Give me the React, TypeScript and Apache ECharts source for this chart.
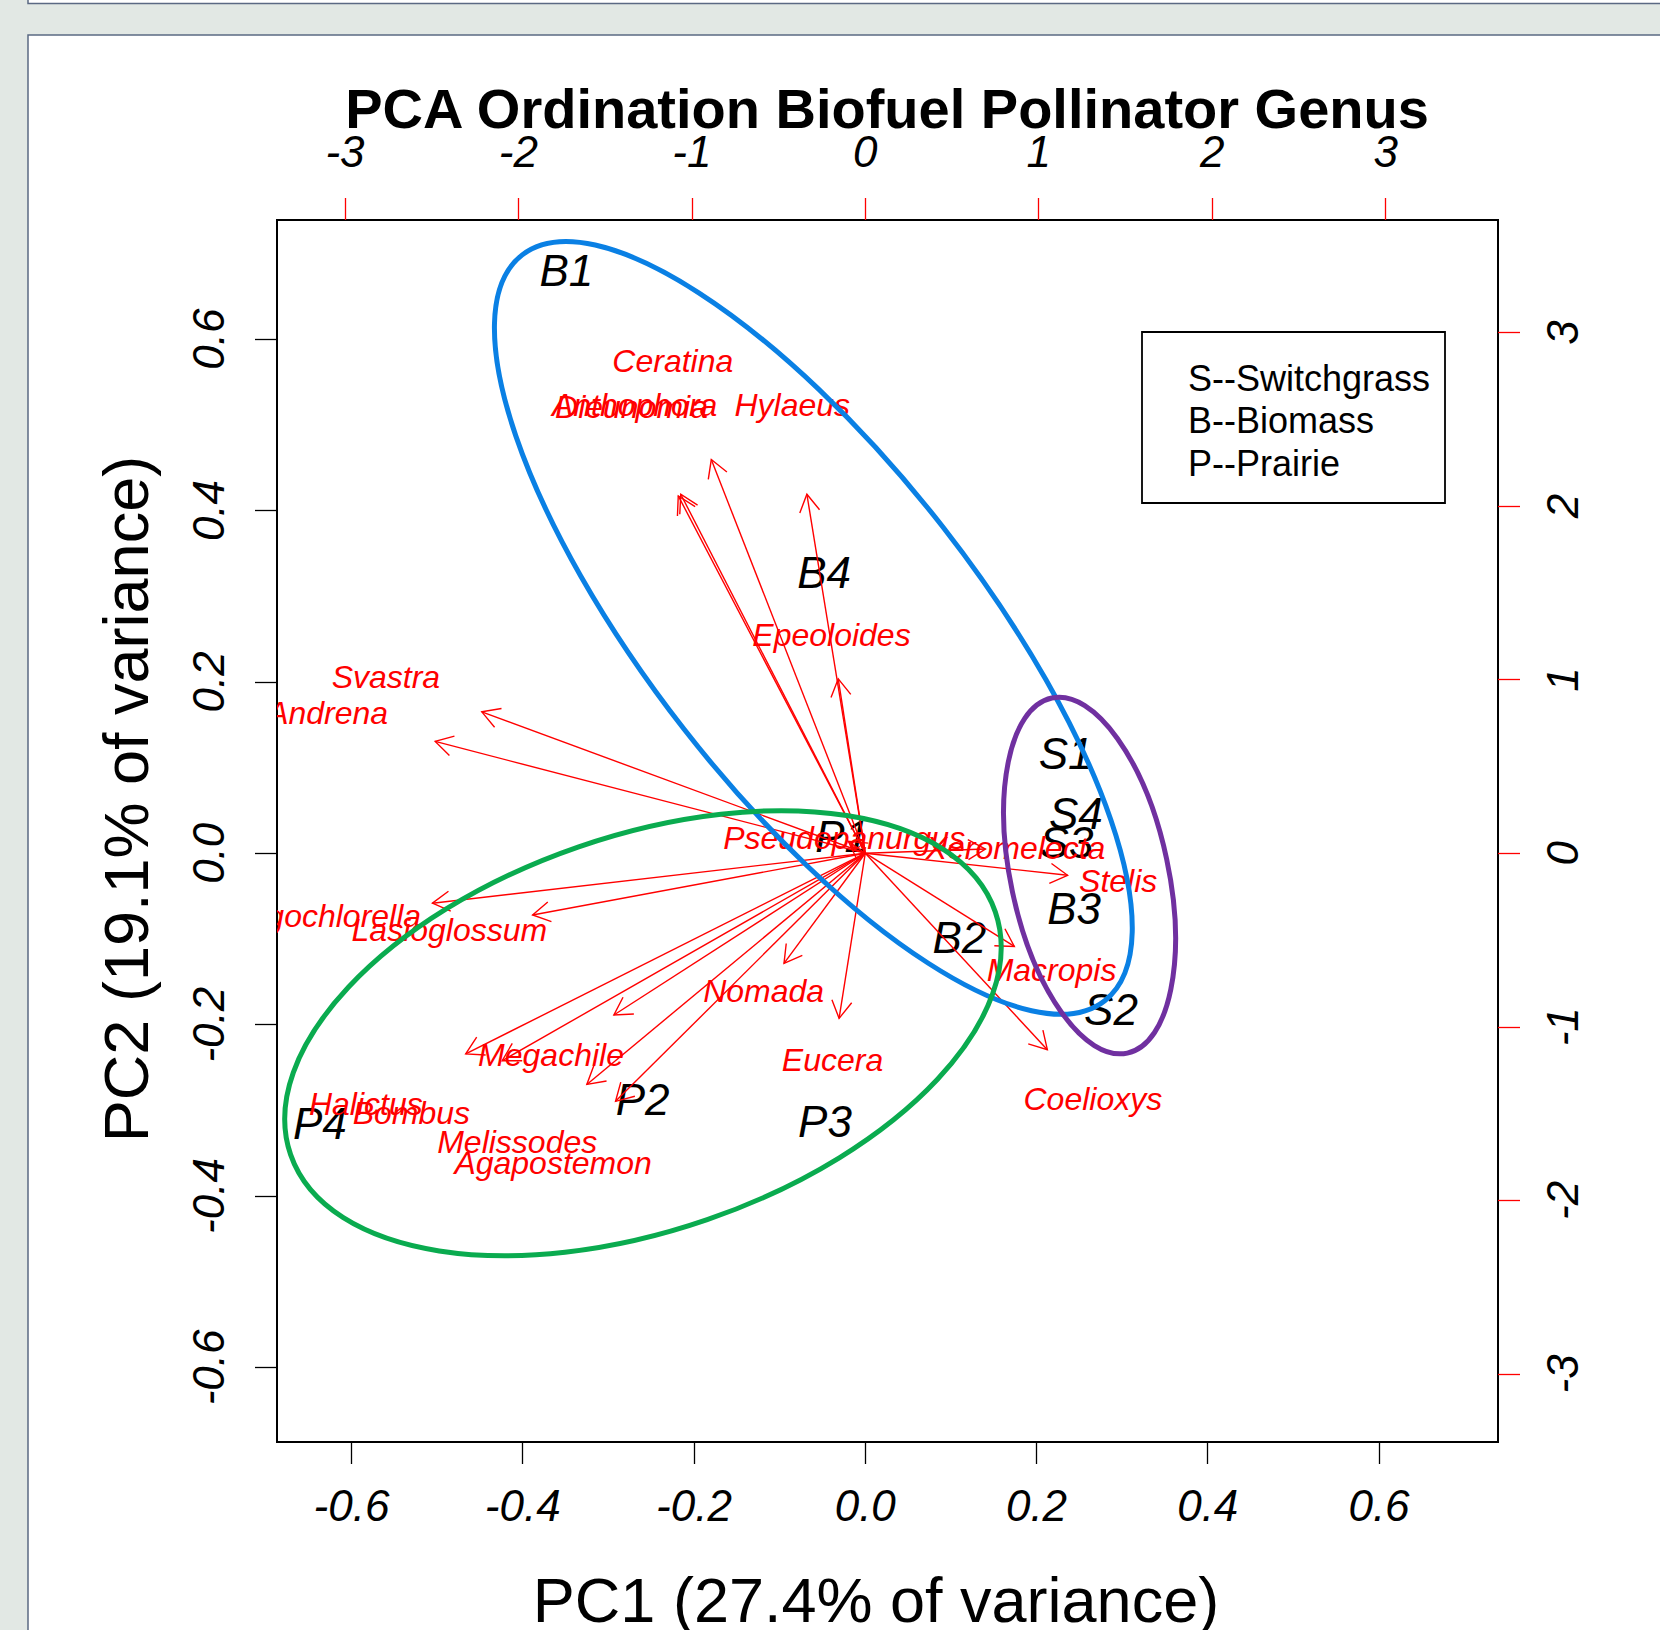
import React, { useEffect, useRef } from "react";
import * as echarts from "echarts";

const FONT = '"Liberation Sans", Arial, Helvetica, sans-serif';

const titleText = "PCA Ordination Biofuel Pollinator Genus";
const xTitle = "PC1 (27.4% of variance)";
const yTitle = "PC2 (19.1% of variance)";

// axis ranges and ticks
const primaryRange = [-0.687, 0.739];
const secondaryRange = [-3.392, 3.648];
const primaryTicks = [-0.6, -0.4, -0.2, 0, 0.2, 0.4, 0.6];
const secondaryTicks = [-3, -2, -1, 0, 1, 2, 3];

// site scores (black labels, bottom/left axes)
const siteNames = ["B1", "B4", "S1", "S4", "S3", "B3", "B2", "S2", "P1", "P2", "P3", "P4"];
const sitePC1 = [-0.349, -0.048, 0.234, 0.246, 0.235, 0.244, 0.11, 0.287, -0.027, -0.26, -0.047, -0.637];
const sitePC2 = [0.68, 0.328, 0.117, 0.046, 0.012, -0.064, -0.098, -0.182, 0.019, -0.287, -0.313, -0.315];

// genus loadings (red arrows & labels, top/right axes)
const genusNames = [
  "Ceratina", "Anthophora", "Dieunomia", "Hylaeus", "Epeoloides", "Svastra", "Andrena",
  "Augochlorella", "Lasioglossum", "Megachile", "Halictus", "Bombus", "Melissodes",
  "Agapostemon", "Nomada", "Eucera", "Macropis", "Coelioxys", "Stelis", "Xeromelecta",
  "Pseudopanurgus",
];
const genusPC1 = [
  -1.11, -1.33, -1.348, -0.421, -0.195, -2.764, -3.1,
  -3.12, -2.398, -1.812, -2.88, -2.617, -2.007,
  -1.8, -0.586, -0.189, 1.074, 1.312, 1.458, 0.866,
  -0.122,
];
const genusPC2 = [
  2.835, 2.585, 2.573, 2.585, 1.256, 1.018, 0.805,
  -0.36, -0.445, -1.165, -1.445, -1.494, -1.665,
  -1.787, -0.793, -1.189, -0.671, -1.415, -0.159, 0.03,
  0.085,
];
const arrowScale = 0.8; // R biplot draws arrows to 0.8 of the label position

// hand-drawn group ellipses (primary units)
const ellipseColors = ["#0a80e4", "#0aab4f", "#7030a0"];
const ellipseCX = [-0.0606, -0.2596, 0.262];
const ellipseCY = [0.263, -0.21, -0.026];
const ellipseA = [0.5525, 0.435, 0.212];
const ellipseB = [0.1916, 0.23, 0.092];
const ellipseAngle = [-52, 19, -78];

const legendLines = ["S--Switchgrass", "B--Biomass", "P--Prairie"];

export default function App() {
  const ref = useRef<HTMLDivElement>(null);
  useEffect(() => {
    if (!ref.current) return;
    const chart = echarts.init(ref.current, undefined, { renderer: "svg" });

    const tickLabelBase = {
      fontSize: 44,
      fontStyle: "italic" as const,
      fontFamily: FONT,
      color: "#000",
    };
    const hiddenLine = { show: false, onZero: false };

    const option: any = {
      animation: false,
      backgroundColor: "#e2e8e4",
      title: {
        text: titleText,
        left: 887,
        top: 108,
        padding: 0,
        textAlign: "center",
        textVerticalAlign: "middle",
        textStyle: { fontSize: 56, fontWeight: "bold", fontFamily: FONT, color: "#000" },
      },
      grid: {
        left: 277,
        top: 220,
        width: 1221,
        height: 1222,
        show: true,
        borderColor: "#000",
        borderWidth: 2,
        backgroundColor: "transparent",
        containLabel: false,
      },
      xAxis: [
        {
          type: "value",
          position: "bottom",
          min: primaryRange[0],
          max: primaryRange[1],
          axisLine: hiddenLine,
          splitLine: { show: false },
          axisTick: {
            show: true,
            length: 22,
            lineStyle: { color: "#000", width: 1.3 },
            customValues: primaryTicks,
          },
          axisLabel: {
            ...tickLabelBase,
            margin: 41,
            customValues: primaryTicks,
            formatter: (v: number) => v.toFixed(1),
          },
        },
        {
          type: "value",
          position: "top",
          min: secondaryRange[0],
          max: secondaryRange[1],
          axisLine: hiddenLine,
          splitLine: { show: false },
          axisTick: {
            show: true,
            length: 22,
            lineStyle: { color: "#ff0000", width: 1.3 },
            customValues: secondaryTicks,
          },
          axisLabel: {
            ...tickLabelBase,
            margin: 47,
            customValues: secondaryTicks,
            formatter: (v: number) => String(v),
          },
        },
      ],
      yAxis: [
        {
          type: "value",
          position: "left",
          min: primaryRange[0],
          max: primaryRange[1],
          axisLine: hiddenLine,
          splitLine: { show: false },
          axisTick: {
            show: true,
            length: 22,
            lineStyle: { color: "#000", width: 1.3 },
            customValues: primaryTicks,
          },
          axisLabel: {
            ...tickLabelBase,
            rotate: 90,
            margin: 47,
            customValues: primaryTicks,
            formatter: (v: number) => v.toFixed(1),
          },
        },
        {
          type: "value",
          position: "right",
          min: secondaryRange[0],
          max: secondaryRange[1],
          axisLine: hiddenLine,
          splitLine: { show: false },
          axisTick: {
            show: true,
            length: 22,
            lineStyle: { color: "#ff0000", width: 1.3 },
            customValues: secondaryTicks,
          },
          axisLabel: {
            ...tickLabelBase,
            rotate: 90,
            margin: 42,
            customValues: secondaryTicks,
            formatter: (v: number) => String(v),
          },
        },
      ],
      graphic: [
        {
          type: "rect",
          z: -100,
          silent: true,
          shape: { x: 28, y: -20, width: 1700, height: 23.5 },
          style: { fill: "#ffffff", stroke: "#5b6983", lineWidth: 1.5 },
        },
        {
          type: "rect",
          z: -100,
          silent: true,
          shape: { x: 28, y: 35, width: 1700, height: 1700 },
          style: { fill: "#ffffff", stroke: "#5b6983", lineWidth: 1.5 },
        },
        {
          type: "text",
          z: 10,
          x: 876,
          y: 1600,
          style: {
            text: xTitle,
            font: `63px ${FONT}`,
            fill: "#000",
            textAlign: "center",
            textVerticalAlign: "middle",
            align: "center",
            verticalAlign: "middle",
          },
        },
        {
          type: "text",
          z: 10,
          x: 126,
          y: 799,
          rotation: Math.PI / 2,
          style: {
            text: yTitle,
            font: `63px ${FONT}`,
            fill: "#000",
            textAlign: "center",
            textVerticalAlign: "middle",
            align: "center",
            verticalAlign: "middle",
          },
        },
        {
          type: "group",
          z: 10,
          children: [
            {
              type: "rect",
              shape: { x: 1142, y: 332, width: 303, height: 171 },
              style: { fill: "#ffffff", stroke: "#000", lineWidth: 1.8 },
            },
            ...legendLines.map((t, i) => ({
              type: "text",
              x: 1188,
              y: 378 + i * 42.5,
              style: {
                text: t,
                font: `36px ${FONT}`,
                fill: "#000",
                textAlign: "left",
                textVerticalAlign: "middle",
                align: "left",
                verticalAlign: "middle",
              },
            })),
          ],
        },
      ],
      series: [
        {
          type: "custom",
          name: "sites",
          xAxisIndex: 0,
          yAxisIndex: 0,
          data: siteNames.map((n, i) => [sitePC1[i], sitePC2[i]]),
          renderItem: (params: any, api: any) => {
            const p = api.coord([api.value(0), api.value(1)]);
            return {
              type: "text",
              x: p[0],
              y: p[1],
              style: {
                text: siteNames[params.dataIndex],
                font: `italic 44px ${FONT}`,
                fill: "#000",
                textAlign: "center",
                textVerticalAlign: "middle",
                align: "center",
                verticalAlign: "middle",
              },
            };
          },
          z: 3,
        },
        {
          type: "custom",
          name: "arrows",
          xAxisIndex: 1,
          yAxisIndex: 1,
          data: genusNames.map((n, i) => [genusPC1[i], genusPC2[i]]),
          renderItem: (params: any, api: any) => {
            const o = api.coord([0, 0]);
            const t = api.coord([api.value(0) * arrowScale, api.value(1) * arrowScale]);
            const ang = Math.atan2(t[1] - o[1], t[0] - o[0]);
            const L = 20;
            const h = Math.PI / 6;
            const p1 = [t[0] - L * Math.cos(ang - h), t[1] - L * Math.sin(ang - h)];
            const p2 = [t[0] - L * Math.cos(ang + h), t[1] - L * Math.sin(ang + h)];
            return {
              type: "group",
              children: [
                {
                  type: "line",
                  shape: { x1: o[0], y1: o[1], x2: t[0], y2: t[1] },
                  style: { stroke: "#ff0000", lineWidth: 1.4 },
                },
                {
                  type: "polyline",
                  shape: { points: [p1, t, p2] },
                  style: { stroke: "#ff0000", lineWidth: 1.4, fill: null },
                },
              ],
            };
          },
          z: 4,
        },
        {
          type: "custom",
          name: "genus labels",
          xAxisIndex: 1,
          yAxisIndex: 1,
          clip: true,
          data: genusNames.map((n, i) => [genusPC1[i], genusPC2[i]]),
          renderItem: (params: any, api: any) => {
            const p = api.coord([api.value(0), api.value(1)]);
            return {
              type: "text",
              x: p[0],
              y: p[1],
              style: {
                text: genusNames[params.dataIndex],
                font: `italic 32px ${FONT}`,
                fill: "#ff0000",
                textAlign: "center",
                textVerticalAlign: "middle",
                align: "center",
                verticalAlign: "middle",
              },
            };
          },
          z: 5,
        },
        {
          type: "custom",
          name: "groups",
          xAxisIndex: 0,
          yAxisIndex: 0,
          data: ellipseCX.map((c, i) => [c, ellipseCY[i], ellipseA[i], ellipseB[i], ellipseAngle[i]]),
          renderItem: (params: any, api: any) => {
            const c = api.coord([api.value(0), api.value(1)]);
            const s = api.size([api.value(2), api.value(3)]);
            return {
              type: "ellipse",
              x: c[0],
              y: c[1],
              rotation: (api.value(4) * Math.PI) / 180,
              shape: { cx: 0, cy: 0, rx: s[0], ry: s[1] },
              style: { fill: "none", stroke: ellipseColors[params.dataIndex], lineWidth: 5 },
            };
          },
          z: 6,
        },
      ],
    };

    chart.setOption(option);
    return () => chart.dispose();
  }, []);

  return (
    <div
      ref={ref}
      style={{ position: "fixed", left: 0, top: 0, width: 1660, height: 1630 }}
    />
  );
}
